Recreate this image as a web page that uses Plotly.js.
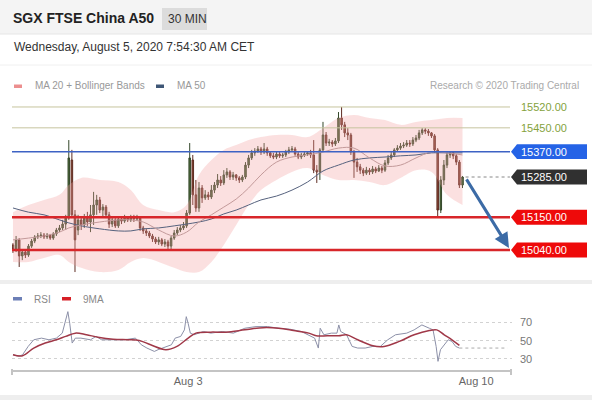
<!DOCTYPE html>
<html><head><meta charset="utf-8">
<script src="https://cdn.plot.ly/plotly-3.0.1.min.js"></script>
<style>html,body{margin:0;padding:0;background:#fff}#chart{width:592px;height:400px}</style>
</head><body><div id="chart"></div>
<script>
// ---- DATA ----
const candleOpen=[15057,15040,15074,15020,15033,15023,15053,15070,15084,15087,
15090,15084,15090,15080,15094,15107,15114,15127,15147,15342,
15158,15107,15141,15124,15147,15134,15158,15191,15208,15174,
15184,15158,15127,15141,15121,15144,15137,15147,15141,15151,
15144,15147,15114,15104,15097,15087,15077,15067,15074,15060,
15067,15053,15080,15097,15107,15114,15121,15164,15342,15225,
15181,15248,15215,15225,15218,15241,15258,15275,15265,15292,
15302,15285,15292,15282,15275,15285,15325,15349,15366,15372,
15379,15369,15379,15366,15356,15352,15362,15356,15359,15369,
15376,15379,15362,15352,15359,15362,15366,15359,15308,15302,
15376,15426,15399,15402,15396,15406,15483,15460,15433,15426,
15369,15335,15319,15308,15298,15308,15302,15312,15305,15315,
15308,15332,15349,15359,15376,15382,15389,15392,15399,15396,
15409,15416,15433,15443,15439,15433,15423,15376,15174,15275,
15325,15359,15366,15356,15335,15258];
const candleHigh=[15063,15087,15080,15040,15043,15060,15077,15090,15097,15100,
15097,15097,15094,15100,15114,15124,15141,15158,15409,15376,
15174,15158,15154,15161,15168,15191,15235,15225,15218,15194,
15191,15168,15151,15147,15154,15154,15158,15154,15158,15158,
15158,15154,15121,15111,15104,15094,15084,15084,15080,15077,
15074,15087,15107,15117,15124,15134,15174,15399,15359,15275,
15268,15258,15241,15235,15258,15268,15295,15288,15308,15315,
15308,15302,15295,15288,15292,15335,15359,15376,15382,15389,
15386,15399,15386,15372,15366,15372,15369,15366,15376,15386,
15389,15386,15369,15366,15369,15372,15376,15409,15325,15382,
15470,15436,15413,15409,15416,15503,15520,15470,15449,15433,
15376,15349,15329,15315,15319,15315,15322,15319,15325,15322,
15342,15359,15369,15382,15392,15399,15402,15409,15409,15419,
15426,15443,15449,15449,15446,15436,15429,15382,15288,15342,
15369,15372,15369,15362,15342,15288];
const candleLow=[15030,15033,14983,15006,15013,15017,15047,15063,15077,15080,
15077,15077,15074,15074,15087,15100,15107,15107,15141,15147,
14966,15090,15107,15114,15121,15100,15124,15158,15164,15154,
15147,15114,15117,15114,15114,15127,15131,15134,15134,15134,
15137,15104,15094,15087,15080,15067,15060,15057,15053,15050,
15043,15043,15074,15090,15100,15107,15114,15158,15191,15168,
15168,15198,15208,15208,15211,15231,15248,15255,15258,15282,
15275,15275,15272,15265,15268,15278,15315,15342,15356,15366,
15359,15362,15356,15349,15345,15345,15349,15349,15352,15362,
15369,15356,15345,15345,15352,15356,15349,15298,15265,15275,
15369,15389,15389,15386,15389,15399,15443,15419,15409,15359,
15282,15302,15295,15288,15292,15292,15295,15298,15302,15298,
15302,15325,15342,15352,15369,15376,15382,15386,15386,15389,
15402,15409,15426,15429,15423,15416,15366,15151,15164,15258,
15315,15349,15345,15325,15248,15248];
const candleClose=[15040,15074,15020,15033,15023,15053,15070,15084,15087,15090,
15084,15090,15080,15094,15107,15114,15127,15147,15349,15158,
15074,15141,15124,15147,15134,15158,15191,15208,15174,15184,
15158,15127,15141,15121,15144,15137,15147,15141,15151,15144,
15147,15114,15104,15097,15087,15077,15067,15074,15060,15067,
15053,15080,15097,15107,15114,15121,15164,15349,15225,15181,
15248,15215,15225,15218,15241,15258,15275,15265,15292,15302,
15285,15292,15282,15275,15285,15325,15349,15366,15372,15379,
15369,15379,15366,15356,15352,15362,15356,15359,15369,15376,
15379,15362,15352,15359,15362,15366,15359,15308,15302,15376,
15426,15399,15402,15396,15406,15483,15460,15433,15426,15369,
15335,15319,15308,15298,15308,15302,15312,15305,15315,15308,
15332,15349,15359,15376,15382,15389,15392,15399,15396,15409,
15416,15433,15443,15439,15433,15423,15376,15174,15275,15325,
15359,15366,15356,15335,15258,15285];

// Bollinger bands / moving averages, sampled at candle indices
const bandIdx=[0,5,10,15,18,22,28,34,38,42,47,52,56,60,64,68,72,76,80,85,90,95,100,105,110,115,120,125,130,135,140,145];
const bandUpper=[15167,15191,15208,15225,15258,15282,15275,15268,15241,15191,15174,15167,15191,15292,15342,15376,15392,15409,15419,15426,15426,15419,15449,15483,15493,15483,15476,15460,15470,15476,15483,15483];
const bandLower=[15000,15000,15013,15023,15000,14980,14966,14973,15000,15013,15000,14980,14966,14966,15000,15057,15124,15191,15241,15275,15302,15315,15292,15275,15275,15268,15258,15282,15308,15302,15225,15191];
const ma20=[15074,15080,15087,15100,15114,15124,15134,15141,15141,15134,15107,15087,15100,15134,15158,15184,15211,15248,15292,15335,15352,15359,15369,15382,15382,15349,15322,15325,15349,15369,15366,15359];
const ma50=[15181,15167,15158,15141,15131,15121,15111,15104,15104,15111,15114,15121,15127,15134,15144,15161,15174,15191,15208,15221,15241,15268,15305,15325,15342,15349,15352,15356,15359,15366,15366,15366];

// RSI panel
const rsiIdx=[0,1.9,3.1,4.9,6.7,9.2,11.6,14,15.9,16.7,17.7,18.3,19.1,20.1,21.9,25,26.8,28.6,32.3,35.9,39.5,41.4,43.2,45.6,46.8,49.3,51.1,52.3,54.1,55.3,55.9,56.5,57.2,58.4,61.4,63.8,67.5,71.1,74.8,78.4,82.1,85.7,89.4,93,95.4,97.3,98.5,99.1,100.3,102.7,104.5,105.1,105.7,107.6,109.4,111.2,113.6,116.1,118.5,120.9,123.4,127,129.4,131.9,134.3,135.5,136.5,137.1,137.9,139.1,140.4,141.6,142.8,144];
const rsiVal=[34.6,32.8,34.6,43.7,51.0,52.8,51.0,52.8,58.3,69.1,81.9,69.1,47.4,52.8,52.8,51.0,54.7,51.0,51.0,51.0,52.8,45.5,41.9,38.2,40.1,43.7,45.5,52.8,54.7,61.9,76.4,69.1,58.3,56.5,60.1,58.3,60.1,58.3,63.7,65.5,65.5,63.7,62.6,60.1,56.5,52.8,41.9,63.7,56.5,58.3,58.3,67.3,60.1,56.5,43.7,41.9,41.9,43.7,43.7,51.0,56.5,58.3,61.9,67.3,63.7,61.9,43.7,27.3,40.1,45.5,51.0,49.2,43.7,41.9];
const ma9Idx=[0,3.1,6.7,10.4,14,17,20.1,23.7,27.4,32.3,37.1,40.7,44.4,49.3,52.9,56.5,59,63.8,68.7,74.8,80.7,85.7,90.5,95.4,97.8,101.4,105.1,107.6,111.2,116.1,119.7,124.6,129.4,134.3,136.7,139.1,141.6,144];
const ma9Val=[34.6,33.5,41.9,47.4,51.0,54.7,58.3,56.5,53.9,51.7,51.0,50.3,45.5,40.1,43.7,52.8,58.3,59.4,59.4,61.9,64.3,63.7,61.2,58.3,55.4,55.4,55.4,56.5,51.0,44.4,43.7,49.2,56.5,61.2,61.9,56.5,51.0,44.8];
const rsiTicks=[30,50,70];

// levels and labels
const levels=[15520,15450,15370,15285,15150,15040];
const levelKinds=['text','text','blue','dark','red','red'];
const xTickPos=[56.5,149.4];
const xTickLabels=['Aug 3','Aug 10'];
const arrowTarget=15047;

// ---- DRAW ----
const FONT='Liberation Sans, Arial, Helvetica, sans-serif';
const W=592,H=400;
const px=x=>x/W, py=y=>1-y/H;
const idx=candleClose.map((_,i)=>i);
const XR=[-0.32,160.97];

const traces=[
 {x:bandIdx,y:bandUpper,mode:'lines',line:{width:0,shape:'spline'},xaxis:'x',yaxis:'y',hoverinfo:'skip'},
 {x:bandIdx,y:bandLower,mode:'lines',line:{width:0,shape:'spline'},fill:'tonexty',fillcolor:'rgba(243,160,160,0.32)',xaxis:'x',yaxis:'y',hoverinfo:'skip'},
 {x:bandIdx,y:ma50,mode:'lines',line:{width:1,color:'#56627e',shape:'spline'},xaxis:'x',yaxis:'y'},
 {x:bandIdx,y:ma20,mode:'lines',line:{width:1,color:'#c39a9a',shape:'spline'},xaxis:'x',yaxis:'y'},
 {type:'candlestick',x:idx,open:candleOpen,high:candleHigh,low:candleLow,close:candleClose,xaxis:'x',yaxis:'y',
  increasing:{line:{color:'#34482a',width:1},fillcolor:'#4d6b3a'},
  decreasing:{line:{color:'#5e2c22',width:1},fillcolor:'#8e4a35'},whiskerwidth:0},
 {x:rsiIdx,y:rsiVal,mode:'lines',line:{width:1,color:'#8c90a8'},xaxis:'x2',yaxis:'y2'},
 {x:ma9Idx,y:ma9Val,mode:'lines',line:{width:1.5,color:'#a03848',shape:'spline'},xaxis:'x2',yaxis:'y2'}
];

const shapes=[
 {type:'rect',xref:'paper',yref:'paper',x0:0,x1:1,y0:py(34),y1:1,fillcolor:'#f4f4f4',line:{width:0},layer:'below'},
 {type:'line',xref:'paper',yref:'paper',x0:0,x1:1,y0:py(34),y1:py(34),line:{color:'#e6e6e6',width:1},layer:'below'},
 {type:'line',xref:'paper',yref:'paper',x0:0,x1:1,y0:py(65),y1:py(65),line:{color:'#f0f0f0',width:1},layer:'below'},
 {type:'rect',xref:'paper',yref:'paper',x0:0,x1:1,y0:py(284),y1:py(280),fillcolor:'#eeeeee',line:{width:0},layer:'below'},
 {type:'rect',xref:'paper',yref:'paper',x0:0,x1:1,y0:0,y1:py(395),fillcolor:'#eeeeee',line:{width:0},layer:'below'},
 {type:'rect',xref:'paper',yref:'paper',x0:px(162),x1:px(207),y0:py(30),y1:py(8),fillcolor:'#dcdcdc',line:{width:0},layer:'below'},
 // legend swatches
 {type:'rect',xref:'paper',yref:'paper',x0:px(14),x1:px(22),y0:py(88),y1:py(84.5),fillcolor:'#ec8f8f',line:{width:0}},
 {type:'rect',xref:'paper',yref:'paper',x0:px(156),x1:px(164),y0:py(88),y1:py(84.5),fillcolor:'#3f5676',line:{width:0}},
 {type:'rect',xref:'paper',yref:'paper',x0:px(13),x1:px(22),y0:py(300.5),y1:py(297),fillcolor:'#6c7fb6',line:{width:0}},
 {type:'rect',xref:'paper',yref:'paper',x0:px(62),x1:px(71),y0:py(300.5),y1:py(297),fillcolor:'#d61f26',line:{width:0}},
 // x-axis end caps
 {type:'line',xref:'paper',yref:'paper',x0:px(12),x1:px(12),y0:py(369),y1:py(375),line:{color:'#c4c4c4',width:2}},
 {type:'line',xref:'paper',yref:'paper',x0:px(511),x1:px(511),y0:py(369),y1:py(375),line:{color:'#c4c4c4',width:2}},
 // last-close dotted line and RSI continuation
 {type:'line',xref:'x',yref:'y',x0:idx.length,x1:160.3,y0:candleClose[candleClose.length-1],y1:candleClose[candleClose.length-1],line:{color:'#888',width:1,dash:'dot'}},
 {type:'line',xref:'x2',yref:'y2',x0:rsiIdx[rsiIdx.length-1],x1:159.5,y0:rsiVal[rsiVal.length-1],y1:rsiVal[rsiVal.length-1],line:{color:'#aaa',width:1,dash:'dot'}}
];

const levelLine={text:{color:'#c6c49e',width:1},blue:{color:'#3d62c4',width:1.5},dark:null,red:{color:'#d8262a',width:2.5}};
const boxFill={blue:'#2563e6',dark:'#303030',red:'#ee0a0a'};
const annotations=[];
levels.forEach((lv,k)=>{
  const kind=levelKinds[k];
  if(levelLine[kind]) shapes.push({type:'line',xref:'paper',yref:'y',x0:px(12),x1:px(510),y0:lv,y1:lv,line:levelLine[kind]});
  if(kind!=='text'){
    const h=25;
    shapes.push({type:'path',xref:'paper',yref:'y',
      path:`M ${px(511)},${lv} L ${px(517)},${lv+h} L ${px(587)},${lv+h} L ${px(587)},${lv-h} L ${px(517)},${lv-h} Z`,
      fillcolor:boxFill[kind],line:{width:0}});
  }
  annotations.push({xref:'paper',yref:'y',x:px(519),y:lv,xanchor:'left',yanchor:'middle',showarrow:false,
    text:lv.toFixed(2),font:{family:FONT,size:11,color:kind==='text'?'#84a23c':'#ffffff'}});
});

const txt=(x,y,t,size,color,opts)=>Object.assign({xref:'paper',yref:'paper',x:px(x),y:py(y),xanchor:'left',yanchor:'middle',showarrow:false,text:t,font:{family:FONT,size:size,color:color}},opts||{});
annotations.push(
  txt(11,18,'<b>SGX FTSE China A50</b>',14,'#222'),
  txt(166,19,'30 MIN',12,'#333'),
  txt(12,47,'Wednesday, August 5, 2020 7:54:30 AM CET',12,'#333'),
  txt(33,86,'MA 20 + Bollinger Bands',10,'#999'),
  txt(175,86,'MA 50',10,'#999'),
  txt(581,86,'Research © 2020 Trading Central',10,'#aaa',{xanchor:'right'}),
  txt(32,299,'RSI',10,'#888'),
  txt(81,299,'9MA',10,'#888'),
  {xref:'x',yref:'y',x:160,y:arrowTarget,axref:'x',ayref:'y',ax:idx.length,ay:candleClose[candleClose.length-1]-3,
   showarrow:true,arrowhead:2,arrowsize:1,arrowwidth:3,arrowcolor:'#3c6ba6',text:''}
);

const layout={
  width:W,height:H,margin:{l:0,r:0,t:0,b:0},paper_bgcolor:'#ffffff',plot_bgcolor:'rgba(0,0,0,0)',
  showlegend:false,font:{family:FONT},
  xaxis:{domain:[px(12),px(512)],range:XR,showgrid:false,zeroline:false,showticklabels:false,showline:false,rangeslider:{visible:false},anchor:'y'},
  yaxis:{domain:[py(280),py(95)],range:[14939.3,15560.2],showgrid:false,zeroline:false,showticklabels:false,showline:false,anchor:'x'},
  xaxis2:{domain:[px(12),px(512)],range:XR,anchor:'y2',showgrid:false,zeroline:false,showline:true,linecolor:'#c4c4c4',linewidth:2,
    tickmode:'array',tickvals:xTickPos,ticktext:xTickLabels,ticks:'',tickfont:{family:FONT,size:11,color:'#666'}},
  yaxis2:{domain:[py(370),py(300)],range:[17.8,94.7],anchor:'x2',side:'right',tickmode:'array',tickvals:rsiTicks,ticks:'',
    showline:false,zeroline:false,showgrid:true,gridcolor:'#d2d2d2',griddash:'dot',gridwidth:1,ticklabelstandoff:7,
    tickfont:{family:FONT,size:11,color:'#777'}},
  shapes:shapes,annotations:annotations
};
Plotly.newPlot('chart',traces,layout,{staticPlot:true,displayModeBar:false});
</script></body></html>
